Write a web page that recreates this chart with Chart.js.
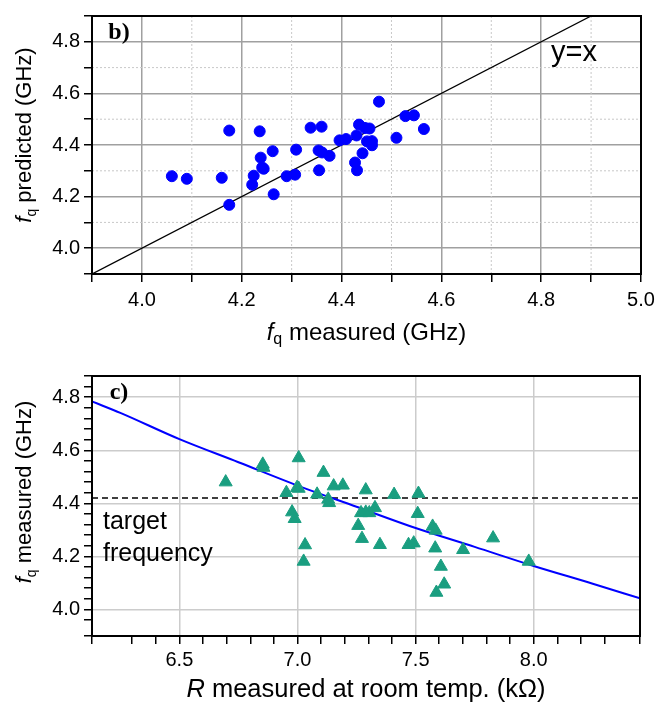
<!DOCTYPE html>
<html>
<head>
<meta charset="utf-8">
<script src="https://cdn.jsdelivr.net/npm/chart.js@4.4.0/dist/chart.umd.min.js"></script>
<style>
body { margin: 0; background: #fff; }
.box { position: absolute; left: 0; width: 672px; height: 354px; }
#boxB { top: 0; }
#boxC { top: 354px; }
</style>
</head>
<body>
<div class="box" id="boxB"><canvas id="chartB"></canvas></div>
<div class="box" id="boxC"><canvas id="chartC"></canvas></div>
<script>
// panel b: measured vs predicted frequency (GHz)
var measB = [4.06, 4.09, 4.16, 4.175, 4.175, 4.236, 4.224, 4.221, 4.238, 4.241, 4.244, 4.262, 4.264, 4.29, 4.307, 4.309, 4.338, 4.36, 4.354, 4.361, 4.355, 4.376, 4.396, 4.409, 4.43, 4.435, 4.427, 4.431, 4.442, 4.456, 4.451, 4.461, 4.461, 4.475, 4.51, 4.528, 4.545, 4.565, 4.447];
var predB = [4.279, 4.269, 4.273, 4.456, 4.168, 4.453, 4.281, 4.246, 4.351, 4.313, 4.308, 4.376, 4.209, 4.279, 4.285, 4.382, 4.467, 4.471, 4.379, 4.371, 4.302, 4.358, 4.418, 4.423, 4.437, 4.479, 4.332, 4.302, 4.368, 4.464, 4.414, 4.415, 4.399, 4.568, 4.428, 4.512, 4.515, 4.462, 4.466];
var diagB = [3.9, 4.9];

// panel c: room temp resistance (kOhm) vs measured frequency (GHz)
var resC = [6.696, 6.853, 6.856, 7.005, 6.953, 6.998, 7.005, 6.977, 6.988, 7.032, 7.026, 7.083, 7.11, 7.13, 7.134, 7.153, 7.192, 7.289, 7.269, 7.289, 7.304, 7.328, 7.257, 7.273, 7.349, 7.409, 7.512, 7.509, 7.47, 7.492, 7.572, 7.585, 7.583, 7.607, 7.621, 7.588, 7.701, 7.828, 7.979];
var freqC = [4.48, 4.547, 4.535, 4.571, 4.44, 4.459, 4.456, 4.367, 4.342, 4.243, 4.181, 4.434, 4.516, 4.415, 4.402, 4.465, 4.468, 4.45, 4.364, 4.366, 4.364, 4.383, 4.316, 4.267, 4.244, 4.433, 4.437, 4.361, 4.244, 4.25, 4.313, 4.298, 4.231, 4.162, 4.095, 4.064, 4.225, 4.269, 4.181];
var fitR = [6.13, 6.25, 6.5, 6.75, 7.0, 7.25, 7.5, 7.75, 8.0, 8.25, 8.45];
var fitF = [4.784, 4.741, 4.642, 4.555, 4.467, 4.387, 4.307, 4.236, 4.164, 4.097, 4.042];
var targetFreq = 4.42;
var rangeC = [6.13, 8.45];

var SANS = '"Liberation Sans", Arial, sans-serif';

function isMajor(v, step) {
    return Math.abs(v / step - Math.round(v / step)) < 1e-6;
}

function pts(xs, ys) {
    return xs.map(function (x, i) { return { x: x, y: ys[i] }; });
}

// titulo con partes en cursiva / subindice
function fqTitle(rest, size) {
    return [
        { t: "f", font: "italic " + size + "px " + SANS, dy: 0 },
        { t: "q", font: Math.round(size * 0.65) + "px " + SANS, dy: 7 },
        { t: " " + rest, font: size + "px " + SANS, dy: 0 },
    ];
}

function drawRich(ctx, x, y, parts, rotate) {
    ctx.save();
    ctx.translate(x, y);
    if (rotate) ctx.rotate(-Math.PI / 2);
    var w = 0;
    parts.forEach(function (p) { ctx.font = p.font; w += ctx.measureText(p.t).width; });
    var cx = -w / 2;
    ctx.fillStyle = "#000";
    ctx.textBaseline = "middle";
    ctx.textAlign = "left";
    parts.forEach(function (p) {
        ctx.font = p.font;
        ctx.fillText(p.t, cx, p.dy);
        cx += ctx.measureText(p.t).width;
    });
    ctx.restore();
}

function framePlugin(opts) {
    return {
        id: "frame",
        beforeDatasetsDraw: function (chart) {
            if (!opts.minor) return;
            var ctx = chart.ctx, a = chart.chartArea;
            ctx.save();
            ctx.strokeStyle = "#c8c8c8";
            ctx.lineWidth = 1;
            ctx.setLineDash([2, 2]);
            chart.scales.x.ticks.forEach(function (t) {
                if (isMajor(t.value, 0.1) && !isMajor(t.value, 0.2)) {
                    var px = chart.scales.x.getPixelForValue(t.value);
                    ctx.beginPath(); ctx.moveTo(px, a.top); ctx.lineTo(px, a.bottom); ctx.stroke();
                }
            });
            chart.scales.y.ticks.forEach(function (t) {
                if (isMajor(t.value, 0.1) && !isMajor(t.value, 0.2)) {
                    var py = chart.scales.y.getPixelForValue(t.value);
                    ctx.beginPath(); ctx.moveTo(a.left, py); ctx.lineTo(a.right, py); ctx.stroke();
                }
            });
            ctx.restore();
        },
        afterDraw: function (chart) {
            var ctx = chart.ctx, a = chart.chartArea;
            ctx.save();
            ctx.strokeStyle = "#000";
            ctx.lineWidth = 2;
            ctx.strokeRect(a.left, a.top, a.right - a.left, a.bottom - a.top);
            ctx.fillStyle = "#000";
            ctx.font = "bold 24px 'Liberation Serif', 'DejaVu Serif', serif";
            ctx.textAlign = "center";
            ctx.textBaseline = "middle";
            ctx.fillText(opts.panel, a.left + 27, a.top + 17);
            opts.texts.forEach(function (t) {
                ctx.font = t.font;
                ctx.textAlign = "left";
                ctx.fillText(t.text, t.x, t.y);
            });
            drawRich(ctx, opts.yTitle[0], opts.yTitle[1], opts.yTitle[2], true);
            drawRich(ctx, (a.left + a.right) / 2, opts.xTitle[0], opts.xTitle[1], false);
            ctx.restore();
        },
    };
}

function axis(min, max, step, major, gridColor, pad, isY, size) {
    return {
        type: "linear",
        min: min,
        max: max,
        border: { display: false },
        afterFit: function (s) { if (isY) s.width = size; else s.height = size; },
        grid: {
            color: function (c) { return c.tick && isMajor(c.tick.value, major) ? gridColor : "transparent"; },
            lineWidth: 1.5,
            tickColor: "#000",
            tickLength: 8,
            tickWidth: 1.5,
        },
        ticks: {
            stepSize: step,
            maxTicksLimit: 1000,
            autoSkip: false,
            maxRotation: 0,
            padding: pad,
            color: "#000",
            font: { family: SANS, size: 20 },
            callback: function (v) { return isMajor(v, major) ? v.toFixed(1) : ""; },
        },
    };
}

new Chart(document.getElementById("chartB").getContext("2d"), {
    type: "scatter",
    data: {
        datasets: [
            {
                data: pts(measB, predB),
                backgroundColor: "#0000ff",
                borderColor: "#0000ff",
                pointRadius: 5.5,
                pointHoverRadius: 5.5,
            },
            {
                type: "line",
                data: pts(diagB, diagB),
                borderColor: "#000",
                borderWidth: 1.3,
                pointRadius: 0,
                fill: false,
            },
        ],
    },
    options: {
        responsive: true,
        maintainAspectRatio: false,
        animation: false,
        layout: { padding: { top: 10, right: 31, left: 0, bottom: 0 } },
        plugins: { legend: { display: false }, tooltip: { enabled: false } },
        scales: {
            x: axis(3.9, 5.0, 0.1, 0.2, "#a0a0a0", 6, false, 80),
            y: axis(3.9, 4.9, 0.1, 0.2, "#a0a0a0", 4, true, 92),
        },
    },
    plugins: [framePlugin({
        panel: "b)",
        minor: true,
        texts: [{ text: "y=x", x: 551, y: 53, font: "29px " + SANS }],
        yTitle: [25, 135, fqTitle("predicted (GHz)", 22)],
        xTitle: [333, fqTitle("measured (GHz)", 24)],
    })],
});

new Chart(document.getElementById("chartC").getContext("2d"), {
    type: "scatter",
    data: {
        datasets: [
            {
                data: pts(resC, freqC),
                backgroundColor: "#1a9e80",
                borderColor: "#1a9e80",
                pointStyle: "triangle",
                pointRadius: 7.5,
                pointHoverRadius: 7.5,
            },
            {
                type: "line",
                data: pts(fitR, fitF),
                borderColor: "#0000ff",
                borderWidth: 2,
                pointRadius: 0,
                cubicInterpolationMode: "monotone",
                fill: false,
            },
            {
                type: "line",
                data: pts(rangeC, [targetFreq, targetFreq]),
                borderColor: "#000",
                borderWidth: 1.5,
                borderDash: [6, 4],
                pointRadius: 0,
                fill: false,
            },
        ],
    },
    options: {
        responsive: true,
        maintainAspectRatio: false,
        animation: false,
        layout: { padding: { top: 22, right: 32, left: 0, bottom: 0 } },
        plugins: { legend: { display: false }, tooltip: { enabled: false } },
        scales: {
            x: axis(rangeC[0], rangeC[1], 0.1, 0.5, "#cccccc", 4, false, 72),
            y: axis(3.9, 4.88, 0.04, 0.2, "#cccccc", 4, true, 92),
        },
    },
    plugins: [framePlugin({
        panel: "c)",
        minor: false,
        texts: [
            { text: "target", x: 103, y: 168, font: "25px " + SANS },
            { text: "frequency", x: 103, y: 200, font: "25px " + SANS },
        ],
        yTitle: [25, 138, fqTitle("measured (GHz)", 22)],
        xTitle: [336, [
            { t: "R", font: "italic 25.5px " + SANS, dy: 0 },
            { t: " measured at room temp. (k\u03a9)", font: "25.5px " + SANS, dy: 0 },
        ]],
    })],
});
</script>
</body>
</html>
